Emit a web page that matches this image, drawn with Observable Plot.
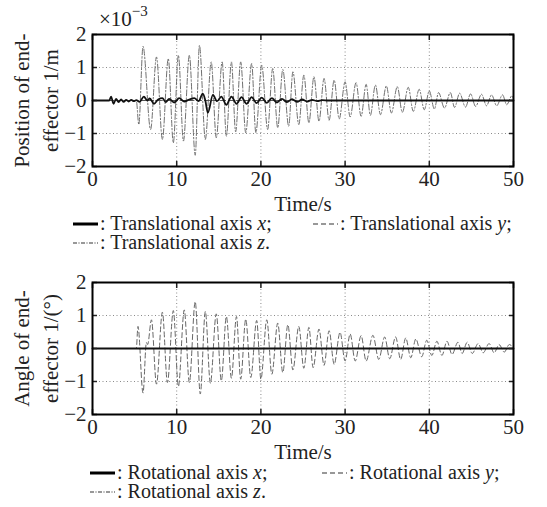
<!DOCTYPE html>
<html>
<head>
<meta charset="utf-8">
<script src="https://cdn.jsdelivr.net/npm/d3@7"></script>
<script src="https://cdn.jsdelivr.net/npm/@observablehq/plot@0.6"></script>
<style>
  html, body { margin: 0; padding: 0; background: white; }
  #page { position: relative; width: 547px; height: 507px; overflow: hidden; background: white; font-family: "Liberation Serif", "Times New Roman", serif; color: #222; }
  #page svg, #page svg text { font-family: "Liberation Serif", "Times New Roman", serif !important; }
  .abs { position: absolute; white-space: nowrap; }
  .leg { font-size: 20px; line-height: 18px; z-index: 5; }
  .sample { position: absolute; z-index: 5; }
  sup { font-size: 15px; position: relative; top: -2px; }
</style>
</head>
<body>
<div id="page"></div>
<script>
// ---------- data ----------
const xTicks = [0, 10, 20, 30, 40, 50];
const yTicks = [-2, -1, 0, 1, 2];
const gridXValues = [10, 20, 30, 40];
const gridYValues = [-1, 0, 1];

// Top chart: translational axis x (solid), times and values (×10^-3 m)
const transXTime = [0, 2.0, 2.2, 2.5, 2.8, 3.1, 3.4, 3.7, 4.0, 4.3, 4.6, 4.9, 5.2, 5.6, 6.1, 6.5, 6.8, 7.3, 7.8, 8.3, 8.7, 9.1, 9.7, 10.3, 10.9, 11.5, 12.1, 12.6, 13.1, 13.4, 13.7, 14.3, 14.8, 15.3, 15.9, 16.5, 17.1, 17.7, 18.3, 18.9, 19.5, 20.1, 20.7, 21.3, 21.9, 22.5, 23.1, 23.7, 24.3, 24.9, 25.5, 26.1, 26.7, 27.3, 28.0, 50];
const transXValue = [0, 0, 0.12, -0.1, 0.05, -0.05, 0.03, -0.04, 0.02, -0.03, 0.02, -0.02, 0.01, -0.04, 0.12, 0.0, 0.06, -0.1, 0.03, 0.07, -0.05, 0.05, -0.06, 0.07, -0.03, 0.03, 0.07, -0.02, 0.21, 0.0, -0.37, 0.17, -0.02, 0.12, -0.13, 0.12, -0.1, 0.1, -0.1, 0.1, -0.08, 0.09, -0.07, 0.07, -0.06, 0.05, -0.05, 0.04, -0.04, 0.03, -0.03, 0.02, -0.02, 0.01, 0, 0];
// Top chart: translational axis y (dashed) — stays on zero
const transYTime = [0, 50];
const transYValue = [0, 0];
// Top chart: translational axis z (dash-dot), peaks and troughs
const transZTime = [0, 5.2, 5.5, 6.0, 6.9, 7.6, 8.3, 9.0, 9.6, 10.2, 10.8, 11.5, 12.2, 12.7, 13.4, 14.1, 14.7, 15.4, 15.9, 16.5, 17.0, 17.6, 18.2, 18.9, 19.4, 20.1, 20.8, 21.4, 22.0, 22.6, 23.3, 23.8, 24.5, 25.1, 25.7, 26.3, 26.9, 27.5, 28.1, 28.7, 29.3, 30.0, 30.6, 31.3, 31.9, 32.5, 33.0, 33.6, 34.2, 34.9, 35.5, 36.2, 36.8, 37.5, 38.1, 38.8, 39.4, 40.0, 40.6, 41.1, 41.8, 42.5, 43.0, 43.6, 44.3, 44.9, 45.5, 46.2, 46.8, 47.4, 48.0, 48.7, 49.2, 49.8, 50];
const transZValue = [0, 0, -0.73, 1.64, -0.88, 1.32, -1.18, 1.27, -1.28, 1.37, -1.23, 1.37, -1.66, 1.67, -1.18, 1.17, -1.13, 1.17, -1.08, 1.17, -0.95, 1.17, -0.98, 1.12, -0.98, 1.07, -0.88, 0.97, -0.83, 0.94, -0.78, 0.87, -0.73, 0.77, -0.68, 0.72, -0.63, 0.67, -0.6, 0.62, -0.56, 0.57, -0.5, 0.54, -0.48, 0.49, -0.45, 0.47, -0.43, 0.44, -0.38, 0.42, -0.36, 0.4, -0.33, 0.34, -0.28, 0.29, -0.26, 0.24, -0.23, 0.24, -0.21, 0.22, -0.2, 0.2, -0.18, 0.19, -0.16, 0.17, -0.16, 0.17, -0.13, 0.14, 0.05];

// Bottom chart: rotational axis x (solid) — stays on zero
const rotXTime = [0, 50];
const rotXValue = [0, 0];
// Bottom chart: rotational axis y (dashed), peaks and troughs (degrees)
const rotYTime = [0, 5.2, 5.4, 6.0, 6.4, 6.55, 7.0, 7.6, 8.3, 8.9, 9.6, 10.2, 10.9, 11.5, 12.2, 12.8, 13.4, 14.0, 14.7, 15.3, 15.9, 16.5, 17.1, 17.6, 18.2, 18.8, 19.5, 20.0, 20.7, 21.3, 22.0, 22.6, 23.2, 23.8, 24.5, 25.1, 25.7, 26.2, 26.9, 27.5, 28.1, 28.7, 29.4, 30.0, 30.6, 31.2, 31.9, 32.5, 33.3, 34.0, 34.7, 35.3, 36.0, 36.6, 37.2, 37.8, 38.4, 39.1, 39.7, 40.3, 40.9, 41.5, 42.1, 42.7, 43.4, 43.9, 44.5, 45.1, 45.8, 46.4, 47.1, 47.7, 48.3, 48.9, 49.5, 50];
const rotYValue = [0, 0, 0.67, -1.35, 0.18, 0.12, 0.87, -1.08, 1.1, -1.03, 1.15, -1.15, 1.17, -1.03, 1.42, -1.38, 1.12, -1.05, 1.05, -0.98, 0.97, -0.9, 0.97, -0.93, 0.89, -0.88, 0.85, -0.93, 0.87, -0.78, 0.77, -0.73, 0.72, -0.65, 0.67, -0.6, 0.64, -0.58, 0.59, -0.51, 0.54, -0.48, 0.49, -0.38, 0.44, -0.38, 0.39, -0.38, 0.4, -0.33, 0.35, -0.31, 0.35, -0.33, 0.32, -0.28, 0.29, -0.25, 0.25, -0.21, 0.22, -0.21, 0.22, -0.18, 0.19, -0.15, 0.19, -0.15, 0.15, -0.13, 0.15, -0.13, 0.12, -0.11, 0.12, 0];
// Bottom chart: rotational axis z (dash-dot) — stays on zero
const rotZTime = [0, 50];
const rotZValue = [0, 0];

const topYLabel = ["Position of end-", "effector 1/m"];
const botYLabel = ["Angle of end-", "effector 1/(°)"];
const xLabel = "Time/s";

// ---------- helpers ----------
const zip = (t, v) => t.map((d, i) => ({t: d, v: v[i]}));
const SERIF = "Liberation Serif, Times New Roman, serif";
const DASH = "5,3";
const DASHDOT = "6,2,1.5,2";

function panel(series, yLabel) {
  return Plot.plot({
    width: 547,
    height: 214,
    marginLeft: 92,
    marginRight: 34,
    marginTop: 34,
    marginBottom: 48,
    style: {fontFamily: SERIF, fontSize: "21px", color: "#222", background: "transparent", overflow: "visible"},
    x: {domain: [0, 50], ticks: xTicks},
    y: {domain: [-2, 2], ticks: yTicks},
    marks: [
      Plot.gridX(gridXValues, {stroke: "#8a8a8a", strokeOpacity: 1, strokeDasharray: "1,2.5"}),
      Plot.gridY(gridYValues, {stroke: "#8a8a8a", strokeOpacity: 1, strokeDasharray: "1,2.5"}),
      ...series.map(s => Plot.line(zip(s.time, s.value), {
        x: "t", y: "v", curve: "monotone-x",
        stroke: s.stroke, strokeWidth: s.width, strokeDasharray: s.dash
      })),
      Plot.axisX(xTicks, {anchor: "bottom", tickSize: 0, tickPadding: 5, label: null, fontSize: 21}),
      Plot.axisX(xTicks, {anchor: "bottom", tickSize: -5, fill: "none", label: null, strokeWidth: 1.5}),
      Plot.axisX(xTicks, {anchor: "top", tickSize: -5, fill: "none", label: null, strokeWidth: 1.5}),
      Plot.axisY(yTicks, {anchor: "left", tickSize: 0, tickPadding: 6, label: null, fontSize: 21}),
      Plot.axisY(yTicks, {anchor: "left", tickSize: -5, fill: "none", label: null, strokeWidth: 1.5}),
      Plot.axisY(yTicks, {anchor: "right", tickSize: -5, fill: "none", label: null, strokeWidth: 1.5}),
      Plot.frame({stroke: "black", strokeWidth: 2}),
      Plot.text([xLabel], {frameAnchor: "bottom", dy: 38, lineAnchor: "middle", textAnchor: "middle", fontSize: 21}),
      Plot.text([yLabel[0]], {frameAnchor: "left", dx: -70, rotate: -90, textAnchor: "middle", lineAnchor: "middle", fontSize: 21}),
      Plot.text([yLabel[1]], {frameAnchor: "left", dx: -41, rotate: -90, textAnchor: "middle", lineAnchor: "middle", fontSize: 21})
    ]
  });
}

function sampleSvg(kind) {
  const ns = "http://www.w3.org/2000/svg";
  const svg = document.createElementNS(ns, "svg");
  svg.setAttribute("width", 25); svg.setAttribute("height", 10);
  const l = document.createElementNS(ns, "line");
  l.setAttribute("x1", 0); l.setAttribute("x2", 25); l.setAttribute("y1", 5); l.setAttribute("y2", 5);
  l.setAttribute("stroke", kind === "solid" ? "black" : "#333");
  l.setAttribute("stroke-width", kind === "solid" ? 3 : 1.2);
  if (kind === "dash") l.setAttribute("stroke-dasharray", "5,3");
  if (kind === "dashdot") l.setAttribute("stroke-dasharray", "4,1.5,1,1.5");
  svg.appendChild(l);
  return svg;
}

function legendItem(page, kind, html, left, textLeft, top) {
  const s = sampleSvg(kind);
  s.classList.add("sample");
  s.style.left = left + "px"; s.style.top = (top + 5) + "px";
  page.appendChild(s);
  const t = document.createElement("div");
  t.className = "abs leg";
  t.style.left = textLeft + "px"; t.style.top = top + "px";
  t.innerHTML = html;
  page.appendChild(t);
}

const page = document.getElementById("page");

// top panel
const top1 = panel([
  {time: transZTime, value: transZValue, stroke: "#707070", width: 1, dash: DASHDOT},
  {time: transYTime, value: transYValue, stroke: "#555", width: 1, dash: DASH},
  {time: transXTime, value: transXValue, stroke: "#111", width: 1.8, dash: null}
], topYLabel);
const d1 = document.createElement("div");
d1.className = "abs"; d1.style.left = "0px"; d1.style.top = "0px";
d1.appendChild(top1);
page.appendChild(d1);

const exp = document.createElement("div");
exp.className = "abs";
exp.style.left = "99px"; exp.style.top = "5px"; exp.style.fontSize = "21px";
exp.innerHTML = "×10<sup>−3</sup>";
page.appendChild(exp);

// bottom panel
const bot = panel([
  {time: rotYTime, value: rotYValue, stroke: "#666", width: 1, dash: DASH},
  {time: rotZTime, value: rotZValue, stroke: "#555", width: 1, dash: DASHDOT},
  {time: rotXTime, value: rotXValue, stroke: "#111", width: 1.8, dash: null}
], botYLabel);
const d2 = document.createElement("div");
d2.className = "abs"; d2.style.left = "0px"; d2.style.top = "248px";
d2.appendChild(bot);
page.appendChild(d2);

legendItem(page, "solid", ": Translational axis <i>x</i>;", 73, 100, 214);
legendItem(page, "dash", ": Translational axis <i>y</i>;", 313, 340, 214);
legendItem(page, "dashdot", ": Translational axis <i>z</i>.", 73, 100, 233);

legendItem(page, "solid", ": Rotational axis <i>x</i>;", 90, 117, 463);
legendItem(page, "dash", ": Rotational axis <i>y</i>;", 322, 349, 463);
legendItem(page, "dashdot", ": Rotational axis <i>z</i>.", 90, 117, 482);
</script>
</body>
</html>
